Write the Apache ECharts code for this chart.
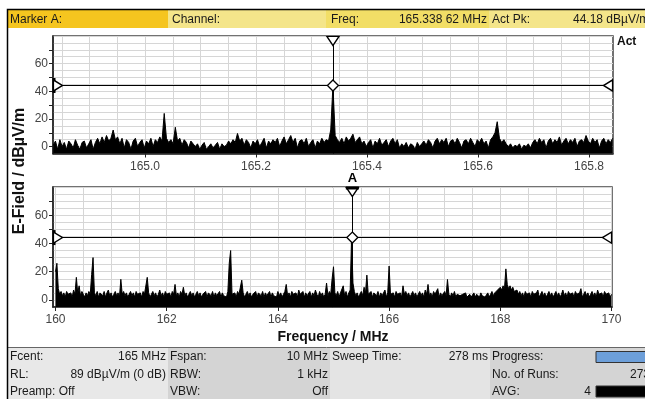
<!DOCTYPE html>
<html><head><meta charset="utf-8">
<script src="https://cdn.jsdelivr.net/npm/echarts@6/dist/echarts.min.js"></script>
<style>html,body{margin:0;padding:0;background:#fff}#c{width:645px;height:399px}</style>
</head><body><div id="c"></div>
<script>
// ---------- data ----------
const markerFreq = 165.33862;
const markerLevel = 44.18;

const topStart = 164.8346, topStep = 0.004;
const topMin = 164.8342, topMax = 165.8432;
const topValues = [
  1, 4, -2, 5, 0, 3, -2, 4, 2, -1, 5, 1, -2, 3, 4, -1, 2, 5, -2, 3,
  6, 2, 7, 3, 8, 4, 6, 12, 5, 7, 2, 6, -1, 5, 3, -2, 4, 6, 0, 3,
  5, -1, 4, 2, 6, 0, 5, 3, 7, 4, 24, 6, 3, 5, 2, 14, 4, 6, 1, 5,
  3, -1, 4, 2, 0, 2, -2, 1, 3, -2, 0, 2, -1, 1, 3, -2, 2, 0, 1, 4,
  2, 5, 3, 9.5, 4, 6, 1, 5, 3, -1, 4, 2, 5, 0, 3, 6, -1, 4, 2, 5,
  3, 6, 0, 4, 7, 2, 5, 8, 3, 6, -1, 4, 5, 2, 6, 0, 3, 5, -1, 4,
  2, 6, 3, 5, 4, 12, 44.18, 8, 5, 3, 6, 2, 7, 4, 6, 9, 3, 5, 7, 2,
  4, 0, 3, 5, -1, 4, 2, 6, 1, 3, 5, 0, 4, 6, 2, 5, -1, 2, 0, 3,
  -1, 2, 1, -2, 3, 0, 2, 4, 1, 5, 3, -1, 4, 6, 2, 5, 3, 6, 0, 4,
  5, 2, 6, 3, -1, 4, 5, 2, 6, 3, 0, 5, 3, 6, 2, 4, -1, 5, 7, 10,
  18, 6, 3, 5, 2, 0, 2, -1, 1, 0, 2, -2, 1, 0, 2, -1, 3, 5, 2, 6,
  3, 5, -1, 4, 6, 2, 5, 3, 7, 1, 4, 6, 2, 5, 3, 6, 0, 4, 5, 3,
  8, 4, 2, 6, 3, 5, -1, 4, 6, 2, 5, 3, 6
];

const botStart = 160, botStep = 0.025;
const botMin = 159.955, botMax = 170.009;
const botValues = [
  20, 26, 8, 4, 6, 3, 5, 2, 6, 4, 3, 5, 2, 7, 4, 16, 5, 10, 3, 6,
  4, 2, 5, 3, 6, 4, 18, 30, 5, 3, 6, 2, 5, 4, 3, 6, 2, 5, 7, 3,
  5, 2, 4, 6, 3, 5, 2, 14.6, 4, 6, 3, 5, 2, 4, 6, 3, 5, 2, 6, 4,
  3, 5, 2, 6, 4, 3, 16, 5, 2, 4, 6, 3, 5, 2, 4, 7, 3, 5, 2, 6,
  4, 3, 5, 2, 6, 4, 11, 3, 5, 2, 6, 4, 9, 3, 5, 2, 4, 6, 3, 5,
  2, 4, 6, 3, 5, 2, 4, 3, 6, 2, 5, 4, 3, 6, 2, 5, 3, 4, 6, 2,
  5, 3, 4, 2, 6, 26, 35, 4, 3, 5, 2, 6, 4, 3, 14, 5, 2, 4, 6, 3,
  5, 2, 4, 3, 6, 2, 5, 4, 3, 6, 2, 5, 3, 4, 6, 2, 5, 3, 4, 2,
  6, 3, 5, 2, 4, 6, 11, 3, 5, 2, 6, 4, 3, 5, 2, 7, 4, 3, 6, 2,
  5, 3, 4, 6, 2, 5, 3, 7, 4, 2, 6, 3, 5, 2, 4, 12, 3, 6, 4, 15,
  23.5, 5, 3, 6, 2, 5, 4, 10, 3, 6, 2, 5, 7, 44.18, 12, 6, 3, 5, 2, 4,
  6, 3, 9, 5, 17.6, 4, 3, 6, 2, 5, 4, 3, 6, 2, 5, 3, 4, 7, 2, 5,
  24, 4, 3, 5, 2, 6, 4, 3, 5, 2, 10, 4, 6, 3, 5, 2, 4, 6, 3, 5,
  2, 4, 6, 3, 5, 2, 7, 4, 11, 3, 5, 2, 6, 4, 3, 8, 2, 5, 3, 4,
  6, 3, 14.5, 4, 2, 5, 3, 6, 2, 4, 5, 3, 2, 4, 3, 5, 2, 3, 4, 2,
  3, 5, 2, 4, 3, 2, 5, 3, 4, 2, 3, 5, 2, 4, 6, 3, 5, 4, 7, 6,
  9, 7, 10, 8, 22, 11, 8, 10, 7, 9, 6, 5, 7, 4, 6, 3, 5, 2, 6, 4,
  3, 5, 2, 6, 4, 3, 5, 7, 2, 4, 6, 3, 5, 2, 4, 6, 3, 5, 2, 4,
  6, 3, 5, 2, 4, 7, 3, 5, 2, 6, 4, 3, 5, 2, 6, 4, 3, 5, 8, 2,
  4, 6, 3, 5, 2, 4, 6, 3, 5, 2, 7, 4, 3, 5, 2, 6, 4, 3, 5, 2,
  4
];

const topXLabels = [165.0, 165.2, 165.4, 165.6, 165.8];
const topXGrid = [164.85, 164.90, 164.95, 165.00, 165.05, 165.10, 165.15, 165.20, 165.25, 165.30,
                  165.35, 165.40, 165.45, 165.50, 165.55, 165.60, 165.65, 165.70, 165.75, 165.80];
const botXLabels = [160, 162, 164, 166, 168, 170];
const botXGrid = [160, 160.5, 161, 161.5, 162, 162.5, 163, 163.5, 164, 164.5, 165,
                  165.5, 166, 166.5, 167, 167.5, 168, 168.5, 169, 169.5, 170];
const yLabels = [0, 20, 40, 60];
const yTicks = [0, 10, 20, 30, 40, 50, 60, 70];
const yMin = -5, yMax = 80;
const channelBar = [165.207, 165.459];

// ---------- chart ----------
const FONT = '"Liberation Sans", Arial, sans-serif';
const topData = topValues.map((v, i) => [+(topStart + i * topStep).toFixed(5), v]);
const botData = botValues.map((v, i) => [+(botStart + i * botStep).toFixed(5), v]);

const DOWN_TRI = 'path://M0,0 L10,0 L5,8 Z';
const RIGHT_TRI = 'path://M0,0 L8,5 L0,10 Z';
const LEFT_TRI = 'path://M8,0 L0,5 L8,10 Z';

function gridX(idx, min, max, grid) {
  return {
    gridIndex: idx, type: 'value', min: min, max: max, position: 'bottom',
    axisLine: { show: false, onZero: false },
    axisTick: { show: false, customValues: grid },
    axisLabel: { show: false },
    splitLine: { show: true, lineStyle: { color: '#d6d6d6', width: 1 } }
  };
}
function labelX(idx, min, max, labels, fmt) {
  return {
    gridIndex: idx, type: 'value', min: min, max: max, position: 'bottom',
    axisLine: { show: true, onZero: false, lineStyle: { color: '#222', width: 1.5 } },
    axisTick: { show: true, customValues: labels, length: 4, lineStyle: { color: '#222' } },
    axisLabel: { customValues: labels, formatter: fmt, color: '#444', fontSize: 12, fontFamily: FONT, margin: 7 },
    splitLine: { show: false }
  };
}
function gridY(idx) {
  return {
    gridIndex: idx, type: 'value', min: yMin, max: yMax, interval: 5, position: 'left',
    axisLine: { show: false, onZero: false }, axisTick: { show: false }, axisLabel: { show: false },
    splitLine: { show: true, lineStyle: { color: '#d6d6d6', width: 1 } }
  };
}
function labelY(idx) {
  return {
    gridIndex: idx, type: 'value', min: yMin, max: yMax, position: 'left',
    axisLine: { show: true, onZero: false, lineStyle: { color: '#222', width: 1.5 } },
    axisTick: { show: true, customValues: yTicks, length: 4, lineStyle: { color: '#222' } },
    axisLabel: { customValues: yLabels, color: '#444', fontSize: 12, fontFamily: FONT, margin: 5 },
    splitLine: { show: false }
  };
}
function trace(xi, yi, data, extra) {
  return Object.assign({
    type: 'line', xAxisIndex: xi, yAxisIndex: yi, data: data, showSymbol: false, symbol: 'none',
    lineStyle: { color: '#000', width: 1 }, areaStyle: { color: '#000', opacity: 1, origin: 'start' },
    animation: false, silent: true, z: 2,
    markLine: {
      silent: true, symbol: ['none', 'none'], label: { show: false }, animation: false,
      lineStyle: { color: '#000', width: 1, type: 'solid' },
      data: [{ xAxis: markerFreq }, { yAxis: markerLevel }]
    }
  }, extra || {});
}
function markers(xi, yi, min, max, isBottom) {
  const d = [
    { value: [min, markerLevel], symbol: 'rect', symbolSize: [3, 15], symbolOffset: [1, 0], itemStyle: { color: '#000', borderWidth: 0 } },
    { value: [min, markerLevel], symbol: RIGHT_TRI, symbolSize: [9, 11], symbolOffset: [5, 0] },
    { value: [max, markerLevel], symbol: 'rect', symbolSize: [2, 10], symbolOffset: [-1, 0], itemStyle: { color: '#000', borderWidth: 0 } },
    { value: [max, markerLevel], symbol: LEFT_TRI, symbolSize: [9, 11], symbolOffset: [-5, 0] },
    { value: [markerFreq, yMax], symbol: DOWN_TRI, symbolSize: [12, 9], symbolOffset: [0, 5] },
    { value: [markerFreq, markerLevel], symbol: 'diamond', symbolSize: [11, 11] }
  ];
  if (isBottom) {
    d.push({ value: [markerFreq, yMax], symbol: 'rect', symbolSize: [13, 3], symbolOffset: [0, 1],
      itemStyle: { color: '#000', borderWidth: 0 },
      label: { show: true, formatter: 'A', position: 'top', distance: 2, fontWeight: 'bold', fontSize: 13, fontFamily: FONT, color: '#000' } });
  }
  return {
    type: 'scatter', xAxisIndex: xi, yAxisIndex: yi, data: d, clip: false, silent: true, animation: false, z: 5,
    itemStyle: { color: '#fff', borderColor: '#000', borderWidth: 1.3, opacity: 1 }
  };
}

function txt(x, y, text, align, font, fill) {
  return { type: 'text', x: x, y: y, silent: true, z: 10,
    style: { text: text, textAlign: align || 'left', textVerticalAlign: 'middle', font: font || ('12px ' + FONT), fill: fill || '#1a1a1a' } };
}
function box(x, y, w, h, fill, stroke) {
  return { type: 'rect', silent: true, z: 1, shape: { x: x, y: y, width: w, height: h },
    style: { fill: fill, stroke: stroke || null, lineWidth: stroke ? 1 : 0 } };
}

const option = {
  backgroundColor: '#fff',
  animation: false,
  grid: [
    { left: 53, top: 36, width: 560, height: 117.5, show: true, backgroundColor: '#fff', borderColor: '#444', borderWidth: 1.5 },
    { left: 53, top: 187, width: 559, height: 120, show: true, backgroundColor: '#fff', borderColor: '#444', borderWidth: 1.5 }
  ],
  xAxis: [
    gridX(0, topMin, topMax, topXGrid),
    labelX(0, topMin, topMax, topXLabels, v => v.toFixed(1)),
    gridX(1, botMin, botMax, botXGrid),
    labelX(1, botMin, botMax, botXLabels, v => String(Math.round(v)))
  ],
  yAxis: [gridY(0), labelY(0), gridY(1), labelY(1)],
  series: [
    trace(0, 0, topData),
    trace(2, 2, botData, {
      markArea: { silent: true, itemStyle: { color: '#000', opacity: 1 },
        data: [[{ xAxis: channelBar[0], yAxis: yMin }, { xAxis: channelBar[1], yAxis: -0.7 }]] }
    }),
    markers(0, 0, topMin, topMax, false),
    markers(2, 2, botMin, botMax, true)
  ],
  graphic: [
    // header bar
    box(8, 10, 160, 18, '#f5c51f'),
    box(168, 10, 158, 18, '#f4e58a'),
    box(326, 10, 163, 18, '#f2de66'),
    box(489, 10, 160, 18, '#f4e58a'),
    txt(10, 19.5, 'Marker A:'),
    txt(172, 19.5, 'Channel:'),
    txt(331, 19.5, 'Freq:'),
    txt(487, 19.5, '165.338 62 MHz', 'right'),
    txt(492, 19.5, 'Act Pk:'),
    txt(573, 19.5, '44.18 dBµV/m'),
    // footer
    box(8, 348, 160, 52, '#e8e8e8'),
    box(168, 348, 162, 52, '#d4d4d4'),
    box(330, 348, 160, 52, '#e4e4e4'),
    box(490, 348, 160, 52, '#d4d4d4'),
    { type: 'line', silent: true, z: 2, shape: { x1: 8, y1: 347.5, x2: 645, y2: 347.5 }, style: { stroke: '#666', lineWidth: 1 } },
    txt(10, 357, 'Fcent:'), txt(166, 357, '165 MHz', 'right'),
    txt(170, 357, 'Fspan:'), txt(328, 357, '10 MHz', 'right'),
    txt(332, 357, 'Sweep Time:'), txt(488, 357, '278 ms', 'right'),
    txt(492, 357, 'Progress:'),
    box(596, 351.5, 52, 11, '#6d9fd9', '#333'),
    txt(10, 375, 'RL:'), txt(166, 375, '89 dBµV/m (0 dB)', 'right'),
    txt(170, 375, 'RBW:'), txt(328, 375, '1 kHz', 'right'),
    txt(492, 375, 'No. of Runs:'), txt(650, 375, '273', 'right'),
    txt(10, 392, 'Preamp: Off'),
    txt(170, 392, 'VBW:'), txt(328, 392, 'Off', 'right'),
    txt(492, 392, 'AVG:'), txt(591, 392, '4', 'right'),
    box(596, 386, 52, 11, '#000', '#333'),
    // outer frame
    { type: 'rect', silent: true, z: 20, shape: { x: 7.5, y: 9.5, width: 660, height: 400 },
      style: { fill: null, stroke: '#000', lineWidth: 1.5 } },
    // labels
    { type: 'text', x: 20, y: 171, rotation: Math.PI / 2, silent: true, z: 10,
      style: { text: 'E-Field / dBµV/m', textAlign: 'center', textVerticalAlign: 'middle', font: 'bold 16px ' + FONT, fill: '#111' } },
    txt(333, 337, 'Frequency / MHz', 'center', 'bold 14px ' + FONT, '#111'),
    txt(617, 42, 'Act', 'left', 'bold 12px ' + FONT, '#111')
  ]
};

const chart = echarts.init(document.getElementById('c'), null, { renderer: 'canvas' });
chart.setOption(option);
</script>
</body></html>
